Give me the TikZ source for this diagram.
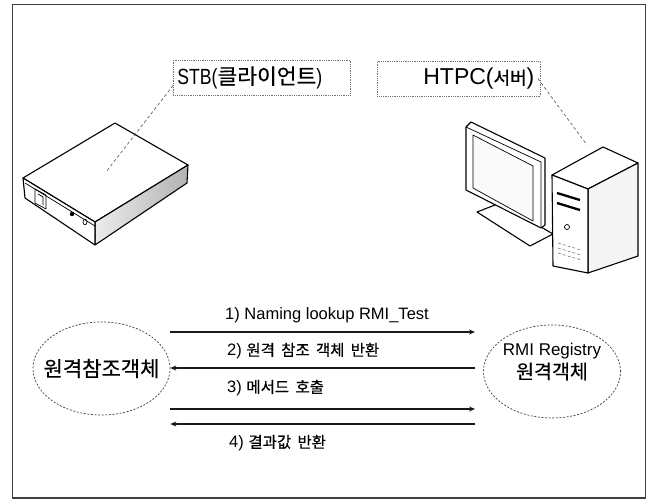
\documentclass[tikz,border=0pt]{standalone}
\usepackage{fontspec}
\setmainfont{Liberation Sans}
\newfontfamily\ko{Noto Sans CJK KR}[WordSpace=1.8, FakeBold=0.4]
\newfontfamily\narrowsf{Liberation Sans}[FakeStretch=0.8]
\usetikzlibrary{shapes.geometric,arrows.meta,calc}
\newcommand\fsz[1]{\fontsize{#1}{#1}\selectfont}

\tikzset{
  frame/.style={draw=black!75, line width=1.1pt},
  tagbox/.style={draw=black!55, densely dotted, line width=0.8pt, minimum height=35pt, inner xsep=4pt, inner ysep=0pt},
  leader/.style={draw=black!70, line width=0.6pt, dash pattern=on 3pt off 2.5pt},
  obj/.style={ellipse, draw=black!75, line width=0.7pt, dash pattern=on 2pt off 1.6pt, minimum width=137pt, minimum height=93pt, inner sep=0pt},
  msg/.style={draw=black!90, line width=1.6pt, -{Stealth[length=6pt,width=5pt]}},
  msglabel/.style={anchor=west, inner sep=0pt, text=black},
  dev/.style={draw=black, line width=1.1pt, line join=round},
  thindev/.style={draw=black, line width=0.7pt, line join=round},
}

\begin{document}
\begin{tikzpicture}[x=1pt, y=-1pt]
\useasboundingbox (0,0) rectangle (653,501);
\fill[white] (0,0) rectangle (653,501);

% outer frame
\draw[frame] (12.5,4.5) rectangle (645.5,498);

% ---------- set-top box ----------
\coordinate (sA) at (23,178);
\coordinate (sB) at (115,123);
\coordinate (sC) at (188,165);
\coordinate (sD) at (95,222);
\coordinate (sE) at (95,245);
\coordinate (sF) at (25,198);
\coordinate (sG) at (187,183);
\draw[dev, fill=white] (sA) -- (sB) -- (sC) -- (sD) -- cycle;
\draw[dev, left color=gray!15, right color=gray!60] (sD) -- (sC) -- (sG) -- (sE) -- cycle;
\draw[dev, fill=white] (sA) -- (sD) -- (sE) -- (sF) -- cycle;
\draw[thindev] (25,183) -- (95,226);
% front panel ports
\draw[thindev] (35,189) -- (46,195) -- (46,209) -- (35,203) -- cycle;
\draw[thindev] (38,194) -- (43,197) -- (43,205);
\fill (72,214) circle (2.2pt);
\draw[thindev] (85,222) ellipse [x radius=2pt, y radius=2.8pt];

% ---------- desktop computer ----------
% monitor stand
\draw[dev, fill=white] (477,212) -- (530,246) -- (553,234) -- (500,203) -- cycle;
% monitor
\draw[dev, fill=white] (466,127) -- (471,122) -- (545,158) -- (545,225) -- (541,228) -- (466,190) -- cycle;
\draw[thindev] (466,127) -- (541,162) -- (541,228);
\draw[thindev, fill=gray!4] (473,135) -- (533,166) -- (533,221) -- (473,188) -- cycle;
% tower
\coordinate (tFL) at (552,175);
\coordinate (tBL) at (603,147);
\coordinate (tBR) at (638,163);
\coordinate (tFR) at (588,189);
\coordinate (tBF) at (553,266);
\coordinate (tBB) at (588,273);
\coordinate (tBRb) at (638,256);
\draw[dev, fill=white] (tFL) -- (tBL) -- (tBR) -- (tFR) -- cycle;
\draw[dev, fill=gray!8] (tFR) -- (tBR) -- (tBRb) -- (tBB) -- cycle;
\draw[dev, fill=white] (tFL) -- (tFR) -- (tBB) -- (tBF) -- cycle;
\draw[line width=2.3pt] (557,193) -- (580,200);
\draw[line width=2.3pt] (557,203) -- (580,210);
\draw[thindev] (567,227) circle (2.5pt);
\foreach \v in {0,5,10}
  \draw[black!60, line width=0.5pt, densely dashed] (558,243+\v) -- (581,250+\v);

% ---------- device tags ----------
\node[tagbox, anchor=west, minimum width=177pt, text width=169pt, align=left] (stb) at (173,77.5)
  {{\narrowsf\fsz{22}STB(}{\ko\fsz{21.5}클라이언트}{\narrowsf\fsz{22})}};
\node[tagbox, anchor=west, minimum width=163pt, inner xsep=6pt, text width=151pt, align=right] (htpc) at (377,78.5)
  {{\fsz{23}HTPC(}{\ko\fsz{18}서버}{\fsz{23})}};

\coordinate (stbtip) at (106,172);
\coordinate (pctip) at (587,145);
\draw[leader] ([yshift=-8pt]stb.west) -- (stbtip);
\draw[leader] ([xshift=-3pt]htpc.east) -- (pctip);

% ---------- remote objects ----------
\node[obj, label={center:{\ko\fsz{21}원격참조객체}}] (client) at (101.5,368.5) {};
\node[obj, label={[yshift=10pt, align=center]center:{\fsz{17}RMI Registry\\[3pt]\ko\fsz{19.5}원격객체}}] (server) at (552,371.5) {};

% ---------- message exchange ----------
\coordinate (r1) at (475,332);
\coordinate (r2) at (475,368);
\coordinate (r3) at (475,409);
\coordinate (r4) at (475,424);
\draw[msg] (client.east |- r1) -- (r1);
\draw[msg] (r2) -- (client.east |- r2);
\draw[msg] (client.east |- r3) -- (r3);
\draw[msg] (r4) -- (client.east |- r4);

\node[msglabel] (m1) at (225,315.5) {\fsz{16.5}1) Naming lookup RMI\_Test};
\node[msglabel] (m2) at (227,351) {{\fsz{16.5}2) }{\ko\fsz{15.5}원격 참조 객체 반환}};
\node[msglabel] (m3) at (227,388) {{\fsz{16.5}3) }{\ko\fsz{15.5}메서드 호출}};
\node[msglabel] (m4) at (229,443) {{\fsz{16.5}4) }{\ko\fsz{15.5}결과값 반환}};
\end{tikzpicture}
\end{document}
